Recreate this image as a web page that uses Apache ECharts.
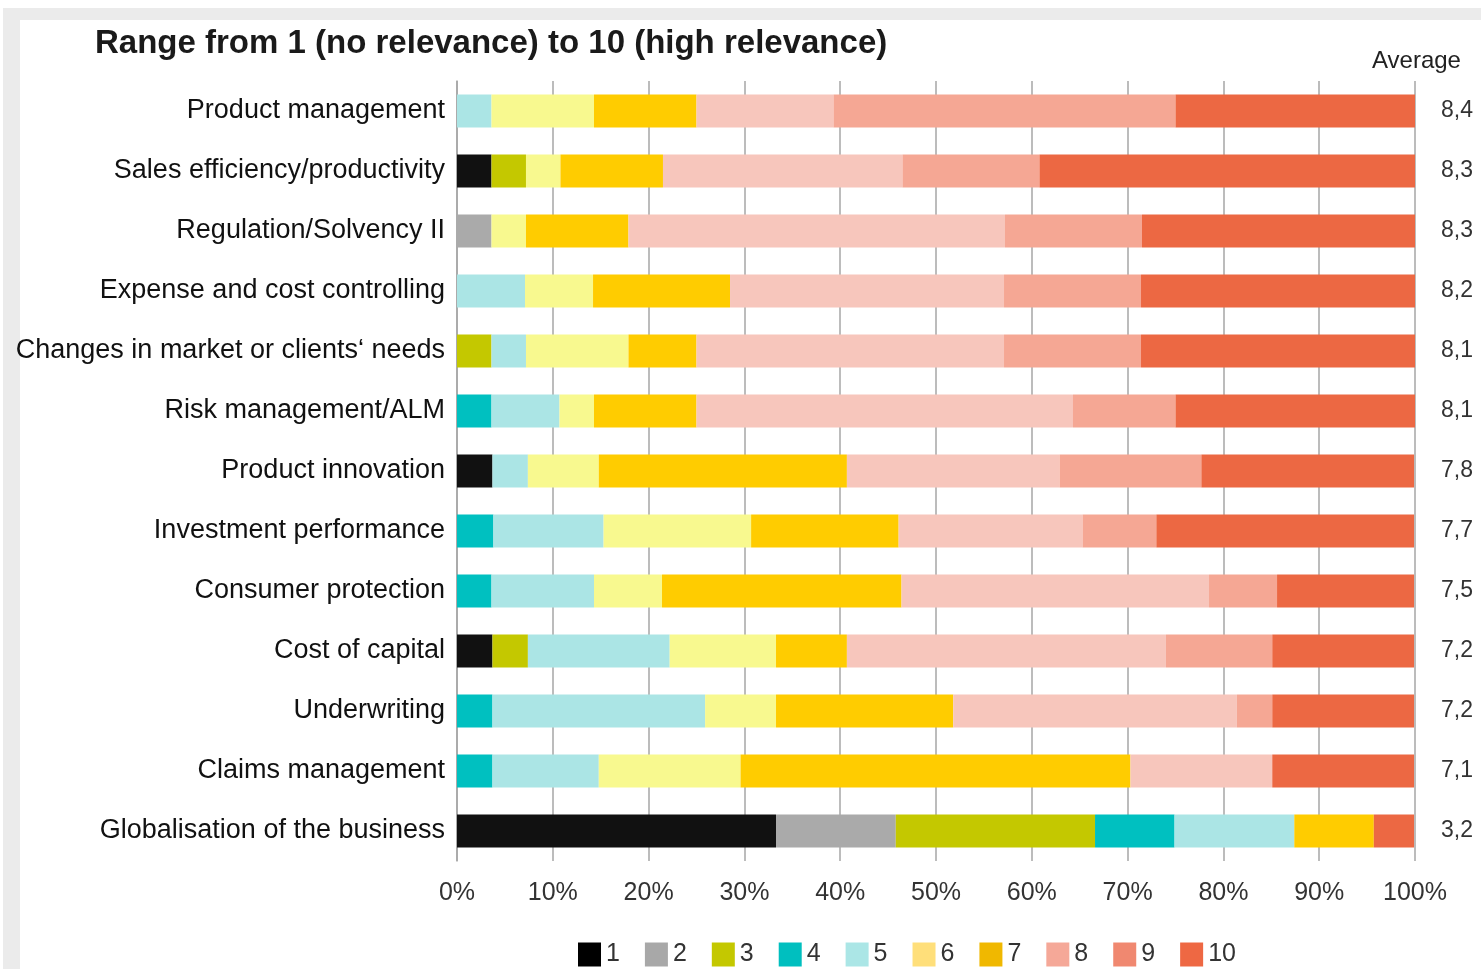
<!DOCTYPE html>
<html>
<head>
<meta charset="utf-8">
<script src="https://cdn.jsdelivr.net/npm/echarts@6/dist/echarts.min.js"></script>
<style>
  html, body { margin: 0; padding: 0; background: #fff; }
  #chart { width: 1481px; height: 969px; }
</style>
</head>
<body>
<div id="chart"></div>
<script>
var categories = [
  'Product management', 'Sales efficiency/productivity', 'Regulation/Solvency II',
  'Expense and cost controlling', 'Changes in market or clients\u2018 needs',
  'Risk management/ALM', 'Product innovation', 'Investment performance',
  'Consumer protection', 'Cost of capital', 'Underwriting', 'Claims management',
  'Globalisation of the business'
];
var averages = ['8,4', '8,3', '8,3', '8,2', '8,1', '8,1', '7,8', '7,7', '7,5', '7,2', '7,2', '7,1', '3,2'];
var xTicks = [0, 10, 20, 30, 40, 50, 60, 70, 80, 90, 100];

// share of answers (%) per score, one array per score
var score1 = [0, 3.6, 0, 0, 0, 0, 3.7, 0, 0, 3.7, 0, 0, 33.3];
var score2 = [0, 0, 3.6, 0, 0, 0, 0, 0, 0, 0, 0, 0, 12.5];
var score3 = [0, 3.6, 0, 0, 3.6, 0, 0, 0, 0, 3.7, 0, 0, 20.8];
var score4 = [0, 0, 0, 0, 0, 3.6, 0, 3.8, 3.6, 0, 3.7, 3.7, 8.3];
var score5 = [3.6, 0, 0, 7.1, 3.6, 7.1, 3.7, 11.5, 10.7, 14.8, 22.2, 11.1, 12.5];
var score6 = [10.7, 3.6, 3.6, 7.1, 10.7, 3.6, 7.4, 15.4, 7.1, 11.1, 7.4, 14.8, 0];
var score7 = [10.7, 10.7, 10.7, 14.3, 7.1, 10.7, 25.9, 15.4, 25.0, 7.4, 18.5, 40.7, 8.3];
var score8 = [14.3, 25.0, 39.3, 28.6, 32.1, 39.3, 22.2, 19.2, 32.1, 33.3, 29.6, 14.8, 0];
var score9 = [35.7, 14.3, 14.3, 14.3, 14.3, 10.7, 14.8, 7.7, 7.1, 11.1, 3.7, 0, 0];
var score10 = [25.0, 39.3, 28.6, 28.6, 28.6, 25.0, 22.2, 26.9, 14.3, 14.8, 14.8, 14.8, 4.2];

var scoreNames = ['1', '2', '3', '4', '5', '6', '7', '8', '9', '10'];
var scoreData = [score1, score2, score3, score4, score5, score6, score7, score8, score9, score10];
var barColors = ['#111111', '#aaaaaa', '#c4c800', '#00c0c0', '#abe5e5',
                 '#f8f98f', '#ffcc00', '#f7c6bc', '#f5a794', '#ec6843'];
var legendColors = ['#000000', '#a8a8a8', '#c4c800', '#00bfbf', '#abe6e6',
                    '#ffdf7a', '#f0b800', '#f5a898', '#f08870', '#ee6843'];

var chart = echarts.init(document.getElementById('chart'));

var series = scoreNames.map(function (name, i) {
  return {
    name: name,
    type: 'bar',
    stack: 'total',
    barWidth: 33,
    itemStyle: { color: barColors[i] },
    data: scoreData[i]
  };
});

var option = {
  backgroundColor: '#ffffff',
  animation: false,
  graphic: [
    { type: 'rect', z: -10, shape: { x: 3, y: 8, width: 1478, height: 961 }, style: { fill: '#ebebeb' } },
    { type: 'rect', z: -9, shape: { x: 20, y: 20, width: 1461, height: 949 }, style: { fill: '#ffffff' } }
  ],
  title: [
    {
      text: 'Range from 1 (no relevance) to 10 (high relevance)',
      left: 95, top: 27, padding: 0,
      textStyle: { fontFamily: 'Liberation Sans, Arial', fontSize: 33, fontWeight: 'bold', color: '#1a1a1a' }
    },
    {
      text: 'Average',
      left: 1372, top: 49, padding: 0,
      textStyle: { fontFamily: 'Liberation Sans, Arial', fontSize: 24, fontWeight: 'normal', color: '#222' }
    }
  ],
  legend: {
    left: 578, top: 942, padding: 0,
    itemWidth: 23, itemHeight: 24, itemGap: 25,
    icon: 'rect',
    textStyle: { fontFamily: "'Liberation Sans Narrow', 'Liberation Sans', Arial", fontSize: 25, color: '#333' },
    data: scoreNames.map(function (n, i) {
      return { name: n, itemStyle: { color: legendColors[i] } };
    })
  },
  grid: { left: 457, right: 66, top: 81, bottom: 108, containLabel: false },
  xAxis: {
    type: 'value',
    min: 0, max: 100, interval: 10,
    axisLine: { show: false },
    axisTick: { show: false },
    splitLine: { show: true, lineStyle: { color: '#a6a6a6', width: 1.5 } },
    axisLabel: {
      margin: 20,
      fontFamily: "'Liberation Sans Narrow', 'Liberation Sans', Arial",
      fontSize: 25, color: '#333',
      formatter: function (v) { return xTicks.indexOf(v) >= 0 ? v + '%' : ''; }
    }
  },
  yAxis: [
    {
      type: 'category',
      inverse: true,
      data: categories,
      axisLine: { show: true, lineStyle: { color: '#a6a6a6', width: 1.5 } },
      axisTick: { show: false },
      axisLabel: { margin: 12, fontFamily: 'Liberation Sans, Arial', fontSize: 27, color: '#111' }
    },
    {
      type: 'category',
      inverse: true,
      position: 'right',
      data: averages,
      axisLine: { show: false },
      axisTick: { show: false },
      axisLabel: { margin: 26, fontFamily: 'Liberation Sans, Arial', fontSize: 23, color: '#333' }
    }
  ],
  series: series
};

option && chart.setOption(option);
</script>
</body>
</html>
